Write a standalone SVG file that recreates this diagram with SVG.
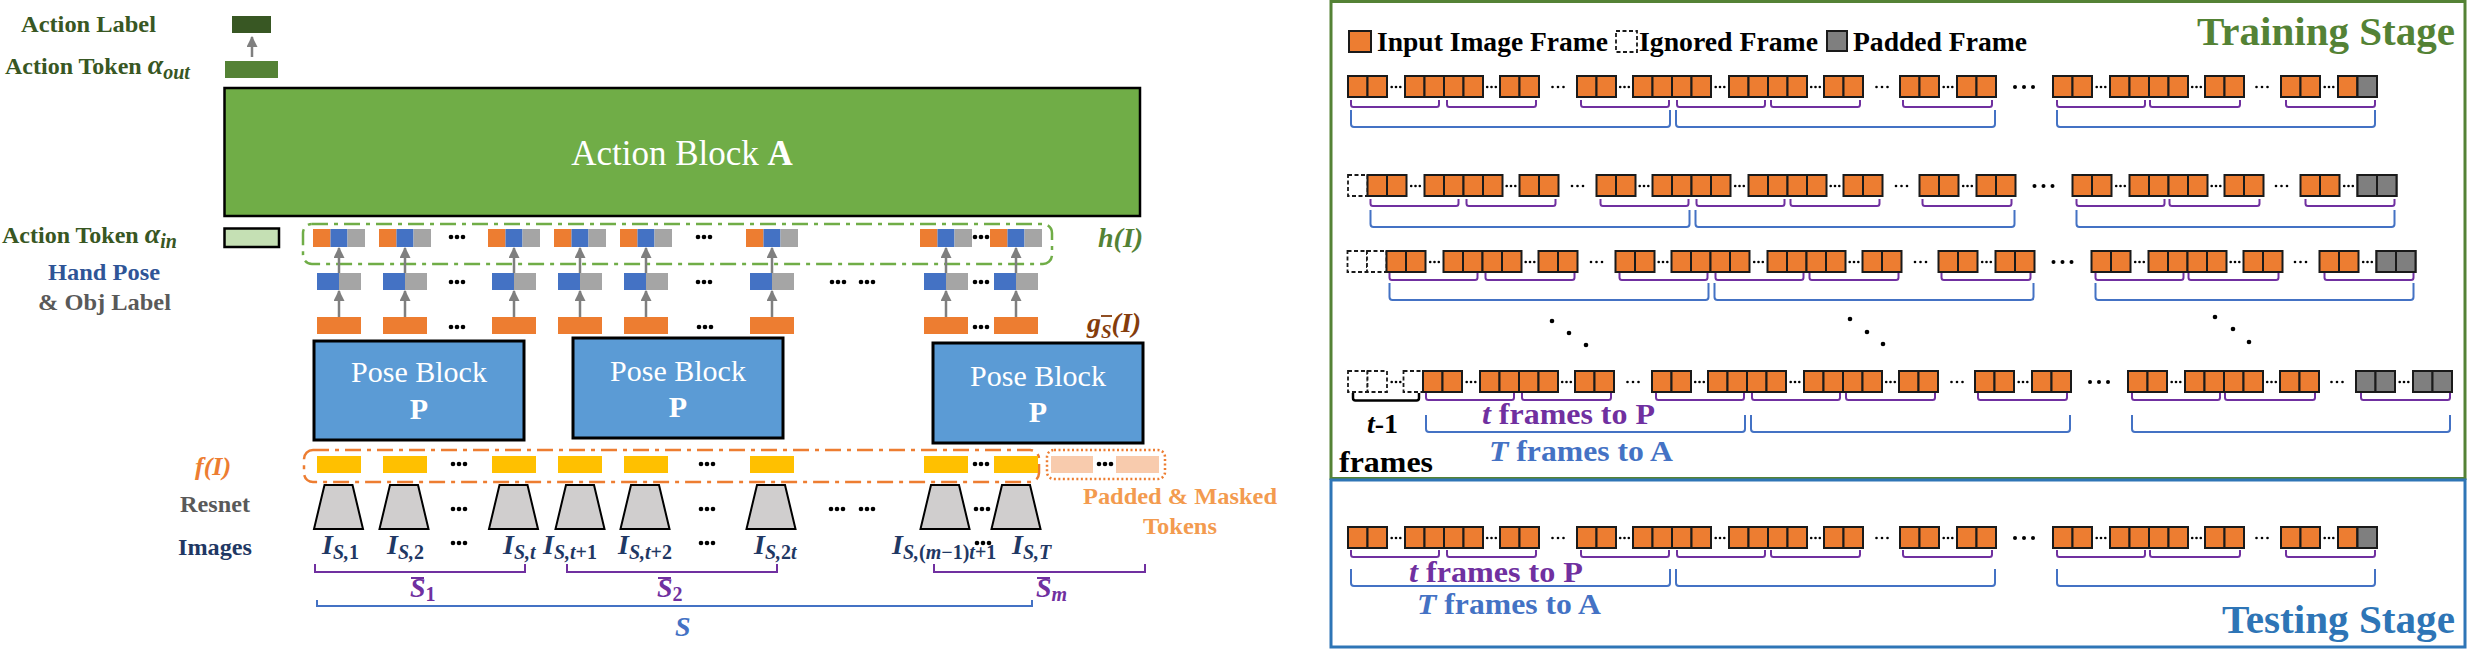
<svg xmlns="http://www.w3.org/2000/svg" xmlns:xlink="http://www.w3.org/1999/xlink" width="2467" height="649" viewBox="0 0 2467 649">
<style>
text{font-family:"Liberation Serif","Times New Roman",serif;font-weight:bold}
.fr{fill:#ed7d31;stroke:#1a1a1a;stroke-width:2}
.fg{fill:#7f7f7f;stroke:#1a1a1a;stroke-width:2}
.fd{fill:#fff;stroke:#1a1a1a;stroke-width:1.8;stroke-dasharray:4 2.5}
.bp{fill:none;stroke:#7030a0;stroke-width:2}
.bb{fill:none;stroke:#4472c4;stroke-width:2}
.arr{stroke:#7f7f7f;stroke-width:2.5;fill:none;marker-end:url(#ah)}
.tko{fill:#ed7d31}.tkb{fill:#4472c4}.tkg{fill:#a5a5a5}.tky{fill:#ffc000}.tkp{fill:#f8cbad}
.trap{fill:#d0cece;stroke:#000;stroke-width:2}
.pose{fill:#5b9bd5;stroke:#000;stroke-width:3}
.pt{fill:#fff;font-weight:normal;font-size:30px}
.nw{font-weight:normal}
.bw{font-weight:bold}
.img{fill:#1f3864;font-size:28px;font-style:italic}
.it{font-style:italic}
.nf{font-style:normal}
</style>
<defs>
<marker id="ah" markerUnits="userSpaceOnUse" markerWidth="11" markerHeight="11" viewBox="0 0 10 10" refX="9" refY="5" orient="auto"><path d="M0,0L10,5L0,10z" fill="#7f7f7f"/></marker>
<g id="dl" fill="#000"><circle cx="-6" r="2.3"/><circle r="2.3"/><circle cx="6" r="2.3"/></g>
<g id="ds" fill="#000"><circle cx="-4.3" r="1.3"/><circle r="1.3"/><circle cx="4.3" r="1.3"/></g>
<g id="dg" fill="#000"><circle cx="-5.5" r="1.3"/><circle r="1.3"/><circle cx="5.5" r="1.3"/></g>
<g id="dw" fill="#000"><circle cx="-9" r="2"/><circle r="2"/><circle cx="9" r="2"/></g>
<g id="tri"><rect x="-26" y="0" width="17.5" height="18" class="tko"/><rect x="-8.5" y="0" width="17" height="18" class="tkb"/><rect x="8.5" y="0" width="17.5" height="18" class="tkg"/></g>
<g id="duo"><rect x="-22" y="0" width="22" height="17" class="tkb"/><rect x="0" y="0" width="22" height="17" class="tkg"/></g>
<rect id="gt" x="-22" y="0" width="44" height="17" class="tko"/>
<rect id="ft" x="-22" y="0" width="44" height="17" class="tky"/>
<polygon id="trap" points="-14,0 14,0 24.5,44 -24.5,44" class="trap"/>
<rect id="c" width="19.5" height="21" class="fr"/>
<rect id="cg" width="19.5" height="21" class="fg"/>
<rect id="cd" width="19.5" height="21" class="fd"/>
<g id="cells">
<use href="#c" x="0"/><use href="#c" x="19.5"/>
<use href="#c" x="57"/><use href="#c" x="76.5"/><use href="#c" x="96"/><use href="#c" x="115.5"/>
<use href="#c" x="152"/><use href="#c" x="171.5"/>
<use href="#c" x="229"/><use href="#c" x="248.5"/>
<use href="#c" x="285"/><use href="#c" x="304.5"/><use href="#c" x="324"/><use href="#c" x="343.5"/>
<use href="#c" x="381"/><use href="#c" x="400.5"/><use href="#c" x="420"/><use href="#c" x="439.5"/>
<use href="#c" x="476"/><use href="#c" x="495.5"/>
<use href="#c" x="552"/><use href="#c" x="571.5"/>
<use href="#c" x="609"/><use href="#c" x="628.5"/>
<use href="#c" x="705"/><use href="#c" x="724.5"/>
<use href="#c" x="762"/><use href="#c" x="781.5"/><use href="#c" x="801"/><use href="#c" x="820.5"/>
<use href="#c" x="857"/><use href="#c" x="876.5"/>
<use href="#c" x="933"/><use href="#c" x="952.5"/>
<use href="#c" x="990"/><use href="#c" x="1009.5"/>
<use href="#ds" x="48" y="11"/><use href="#ds" x="143.5" y="11"/><use href="#ds" x="276.5" y="11"/><use href="#ds" x="372" y="11"/><use href="#ds" x="467.5" y="11"/><use href="#ds" x="600" y="11"/><use href="#ds" x="753" y="11"/><use href="#ds" x="848.5" y="11"/><use href="#ds" x="981" y="11"/>
<use href="#dg" x="210" y="11"/><use href="#dg" x="534" y="11"/><use href="#dg" x="914" y="11"/>
<use href="#dw" x="676" y="11"/>
</g>
<path id="pbr" class="bp" d="M3,0V4.5Q3,7 5.5,7H88.5Q91,7 91,4.5V0M99,0V4.5Q99,7 101.5,7H185.5Q188,7 188,4.5V0M233,0V4.5Q233,7 235.5,7H318.5Q321,7 321,4.5V0M329,0V4.5Q329,7 331.5,7H414.5Q417,7 417,4.5V0M423,0V4.5Q423,7 425.5,7H509.5Q512,7 512,4.5V0M555,0V4.5Q555,7 557.5,7H641.5Q644,7 644,4.5V0M709,0V4.5Q709,7 711.5,7H794.5Q797,7 797,4.5V0M802,0V4.5Q802,7 804.5,7H889.5Q892,7 892,4.5V0M938,0V4.5Q938,7 940.5,7H1024.5Q1027,7 1027,4.5V0"/>
<path id="bbr" class="bb" d="M3,0V14Q3,17 6,17H319Q322,17 322,14V0M328,0V14Q328,17 331,17H644Q647,17 647,14V0M709,0V14Q709,17 712,17H1024Q1027,17 1027,14V0"/>
</defs>

<!-- ============ LEFT PANEL ============ -->
<g id="action-label">
<text x="21" y="32" font-size="24" fill="#385723" textLength="135" lengthAdjust="spacingAndGlyphs">Action Label</text>
<rect x="232" y="16" width="39" height="17" fill="#385723"/>
</g>
<g id="action-token-out">
<text x="5" y="74" font-size="24" fill="#385723">Action Token <tspan class="it" font-size="28">α</tspan><tspan class="it" font-size="20" dy="5">out</tspan></text>
<rect x="225" y="61" width="53" height="17" fill="#548235"/>
</g>
<g id="action-block">
<rect x="224.5" y="88" width="915.5" height="128" fill="#70ad47" stroke="#000" stroke-width="2.5"/>
<text x="682" y="165" text-anchor="middle" font-size="35" fill="#fff" class="nw">Action Block <tspan class="bw">A</tspan></text>
</g>
<g id="action-token-in">
<text x="2" y="243" font-size="24" fill="#385723">Action Token <tspan class="it" font-size="28">α</tspan><tspan class="it" font-size="20" dy="5">in</tspan></text>
<rect x="224.5" y="228.5" width="54.5" height="18.5" fill="#c5e0b4" stroke="#000" stroke-width="2.5"/>
</g>
<g id="hand-pose-label">
<text x="48" y="280" font-size="24" fill="#2f5597" textLength="112" lengthAdjust="spacingAndGlyphs">Hand Pose</text>
<text x="38" y="310" font-size="24" fill="#595959" textLength="133" lengthAdjust="spacingAndGlyphs">&amp; Obj Label</text>
</g>

<g id="h-group">
<rect x="303" y="224" width="749" height="40" rx="9" fill="none" stroke="#70ad47" stroke-width="2.5" stroke-dasharray="16 6 4 6"/>
<use href="#tri" x="339" y="229"/><use href="#tri" x="405" y="229"/><use href="#tri" x="514" y="229"/><use href="#tri" x="580" y="229"/><use href="#tri" x="646" y="229"/><use href="#tri" x="772" y="229"/><use href="#tri" x="946" y="229"/><use href="#tri" x="1016" y="229"/>
<use href="#dl" x="457" y="237"/><use href="#dl" x="704" y="237"/><use href="#dl" x="981" y="237"/>
<text x="1098" y="247" font-size="28" fill="#548235" class="it">h(I)</text>
</g>

<g id="pose-tokens">
<use href="#duo" x="339" y="273"/><use href="#duo" x="405" y="273"/><use href="#duo" x="514" y="273"/><use href="#duo" x="580" y="273"/><use href="#duo" x="646" y="273"/><use href="#duo" x="772" y="273"/><use href="#duo" x="946" y="273"/><use href="#duo" x="1016" y="273"/>
<use href="#dl" x="457" y="282"/><use href="#dl" x="704" y="282"/><use href="#dl" x="838" y="282"/><use href="#dl" x="867" y="282"/><use href="#dl" x="981" y="282"/>
</g>

<g id="g-tokens">
<use href="#gt" x="339" y="317"/><use href="#gt" x="405" y="317"/><use href="#gt" x="514" y="317"/><use href="#gt" x="580" y="317"/><use href="#gt" x="646" y="317"/><use href="#gt" x="772" y="317"/><use href="#gt" x="946" y="317"/><use href="#gt" x="1016" y="317"/>
<use href="#dl" x="457" y="327"/><use href="#dl" x="705" y="327"/><use href="#dl" x="981" y="327"/>
<text x="1087" y="332" font-size="28" fill="#843c0c" class="it">g<tspan font-size="19" dy="6">S</tspan><tspan dy="-6">(I)</tspan></text>
<line x1="1101" y1="316" x2="1112" y2="316" stroke="#843c0c" stroke-width="1.8"/>
</g>

<g id="pose-block-1">
<rect x="314" y="341" width="210" height="99" class="pose"/>
<text x="419" y="382" text-anchor="middle" class="pt">Pose Block</text>
<text x="419" y="419" text-anchor="middle" class="pt bw">P</text>
</g>
<g id="pose-block-2">
<rect x="573" y="338" width="210" height="100" class="pose"/>
<text x="678" y="381" text-anchor="middle" class="pt">Pose Block</text>
<text x="678" y="417" text-anchor="middle" class="pt bw">P</text>
</g>
<g id="pose-block-3">
<rect x="933" y="343" width="210" height="100" class="pose"/>
<text x="1038" y="386" text-anchor="middle" class="pt">Pose Block</text>
<text x="1038" y="422" text-anchor="middle" class="pt bw">P</text>
</g>

<g id="f-group">
<text x="195" y="475" font-size="26" fill="#ed7d31" class="it">f(I)</text>
<rect x="304" y="450" width="735" height="32" rx="9" fill="none" stroke="#ed7d31" stroke-width="2.5" stroke-dasharray="16 6 4 6"/>
<use href="#ft" x="339" y="456"/><use href="#ft" x="405" y="456"/><use href="#ft" x="514" y="456"/><use href="#ft" x="580" y="456"/><use href="#ft" x="646" y="456"/><use href="#ft" x="772" y="456"/><use href="#ft" x="946" y="456"/><use href="#ft" x="1016" y="456"/>
<use href="#dl" x="459" y="464"/><use href="#dl" x="707" y="464"/><use href="#dl" x="981" y="464"/>
</g>
<g id="padded-tokens">
<rect x="1047" y="450" width="118" height="29" rx="7" fill="none" stroke="#ed7d31" stroke-width="2.5" stroke-dasharray="2 2.5"/>
<rect x="1051" y="456" width="42" height="17" class="tkp"/><rect x="1116" y="456" width="43" height="17" class="tkp"/>
<use href="#dl" x="1105" y="464"/>
<text x="1083" y="504" font-size="24" fill="#f39b4f" textLength="194" lengthAdjust="spacingAndGlyphs">Padded &amp; Masked</text>
<text x="1143" y="534" font-size="24" fill="#f39b4f" textLength="74" lengthAdjust="spacingAndGlyphs">Tokens</text>
</g>

<g id="resnet">
<text x="180" y="512" font-size="24" fill="#595959" textLength="70" lengthAdjust="spacingAndGlyphs">Resnet</text>
<use href="#trap" x="338.5" y="485"/><use href="#trap" x="404" y="485"/><use href="#trap" x="513.5" y="485"/><use href="#trap" x="580" y="485"/><use href="#trap" x="645" y="485"/><use href="#trap" x="771" y="485"/><use href="#trap" x="945" y="485"/><use href="#trap" x="1016" y="485"/>
<use href="#dl" x="459" y="509"/><use href="#dl" x="707" y="509"/><use href="#dl" x="837" y="509"/><use href="#dl" x="867" y="509"/><use href="#dl" x="982" y="509"/>
</g>

<g id="images">
<text x="178" y="555" font-size="24" fill="#1f3864" textLength="74" lengthAdjust="spacingAndGlyphs">Images</text>
<text x="322" y="554" class="img">I<tspan font-size="20" dy="5">S,<tspan class="nf">1</tspan></tspan></text>
<text x="387" y="554" class="img">I<tspan font-size="20" dy="5">S,<tspan class="nf">2</tspan></tspan></text>
<text x="503" y="554" class="img">I<tspan font-size="20" dy="5">S,t</tspan></text>
<text x="543" y="554" class="img">I<tspan font-size="20" dy="5">S,t<tspan class="nf">+1</tspan></tspan></text>
<text x="618" y="554" class="img">I<tspan font-size="20" dy="5">S,t<tspan class="nf">+2</tspan></tspan></text>
<text x="754" y="554" class="img">I<tspan font-size="20" dy="5">S,<tspan class="nf">2</tspan>t</tspan></text>
<text x="892" y="554" class="img">I<tspan font-size="20" dy="5">S,<tspan class="nf">(</tspan>m<tspan class="nf">−1)</tspan>t<tspan class="nf">+1</tspan></tspan></text>
<text x="1012" y="554" class="img">I<tspan font-size="20" dy="5">S,T</tspan></text>
<use href="#dl" x="459" y="543"/><use href="#dl" x="707" y="543"/><use href="#dl" x="983" y="543"/>
</g>

<g id="braces">
<path class="bp" stroke-width="2.5" d="M315,564V572H525V564M567,564V572H777V564M934,564V572H1145V564"/>
<path class="bb" stroke-width="2.5" d="M317,600V606H1032V600"/>
<text x="410" y="597" font-size="28" fill="#7030a0" class="it">S<tspan class="nf" font-size="20" dy="4">1</tspan></text>
<line x1="411" y1="578" x2="424" y2="578" stroke="#7030a0" stroke-width="2"/>
<text x="657" y="597" font-size="28" fill="#7030a0" class="it">S<tspan class="nf" font-size="20" dy="4">2</tspan></text>
<line x1="658" y1="578" x2="671" y2="578" stroke="#7030a0" stroke-width="2"/>
<text x="1036" y="597" font-size="28" fill="#7030a0" class="it">S<tspan font-size="20" dy="4">m</tspan></text>
<line x1="1037" y1="578" x2="1050" y2="578" stroke="#7030a0" stroke-width="2"/>
<text x="675" y="636" font-size="28" fill="#4472c4" class="it">S</text>
</g>

<g id="connectors">
<line x1="252" y1="57" x2="252" y2="37" class="arr"/>
<line x1="339" y1="317" x2="339" y2="291" class="arr"/><line x1="405" y1="317" x2="405" y2="291" class="arr"/><line x1="514" y1="317" x2="514" y2="291" class="arr"/><line x1="580" y1="317" x2="580" y2="291" class="arr"/><line x1="646" y1="317" x2="646" y2="291" class="arr"/><line x1="772" y1="317" x2="772" y2="291" class="arr"/><line x1="946" y1="317" x2="946" y2="291" class="arr"/><line x1="1016" y1="317" x2="1016" y2="291" class="arr"/>
<line x1="339" y1="273" x2="339" y2="248" class="arr"/><line x1="405" y1="273" x2="405" y2="248" class="arr"/><line x1="514" y1="273" x2="514" y2="248" class="arr"/><line x1="580" y1="273" x2="580" y2="248" class="arr"/><line x1="646" y1="273" x2="646" y2="248" class="arr"/><line x1="772" y1="273" x2="772" y2="248" class="arr"/><line x1="946" y1="273" x2="946" y2="248" class="arr"/><line x1="1016" y1="273" x2="1016" y2="248" class="arr"/>
</g>

<!-- ============ RIGHT PANEL ============ -->
<g id="training-stage">
<rect x="1331" y="1.5" width="1134" height="477" fill="none" stroke="#548235" stroke-width="3"/>
<text x="2455" y="45" text-anchor="end" font-size="41" fill="#548235" textLength="258" lengthAdjust="spacingAndGlyphs">Training Stage</text>
</g>
<g id="legend">
<rect x="1349" y="31" width="22" height="21" class="fr"/>
<text x="1377" y="51" font-size="27" fill="#000" textLength="231" lengthAdjust="spacingAndGlyphs">Input Image Frame</text>
<rect x="1616" y="31" width="21" height="21" class="fd"/>
<text x="1639" y="51" font-size="27" fill="#000" textLength="179" lengthAdjust="spacingAndGlyphs">Ignored Frame</text>
<rect x="1827" y="31" width="20" height="20" class="fg"/>
<text x="1853" y="51" font-size="27" fill="#000" textLength="174" lengthAdjust="spacingAndGlyphs">Padded Frame</text>
</g>
<g id="row-1" transform="translate(1348,76)">
<use href="#cells"/><use href="#cg" x="1009.5"/>
<use href="#pbr" y="24"/><use href="#bbr" y="34"/>
</g>
<g id="row-2" transform="translate(1367.5,175)">
<use href="#cd" x="-19.5"/>
<use href="#cells"/><use href="#cg" x="990"/><use href="#cg" x="1009.5"/>
<use href="#pbr" y="24"/><use href="#bbr" y="35"/>
</g>
<g id="row-3" transform="translate(1386.5,251)">
<use href="#cd" x="-39"/><use href="#cd" x="-19.5"/>
<use href="#cells"/><use href="#cg" x="990"/><use href="#cg" x="1009.5"/>
<use href="#pbr" y="22"/><use href="#bbr" y="32"/>
</g>
<g id="vdots" fill="#000">
<circle cx="1552" cy="321" r="2.3"/><circle cx="1569" cy="333" r="2.3"/><circle cx="1586" cy="345" r="2.3"/>
<circle cx="1850" cy="319" r="2.3"/><circle cx="1867" cy="332" r="2.3"/><circle cx="1883" cy="344" r="2.3"/>
<circle cx="2215" cy="317" r="2.3"/><circle cx="2233" cy="329" r="2.3"/><circle cx="2249" cy="342" r="2.3"/>
</g>
<g id="row-4" transform="translate(1423,371)">
<use href="#cd" x="-75"/><use href="#cd" x="-55.5"/><use href="#ds" x="-27" y="11"/><use href="#cd" x="-19.5"/>
<use href="#cells"/><use href="#cg" x="933"/><use href="#cg" x="952.5"/><use href="#cg" x="990"/><use href="#cg" x="1009.5"/>
<use href="#pbr" y="22"/><use href="#bbr" y="44"/>
<path d="M-70,22V27Q-70,29.5 -67.5,29.5H-6.5Q-4,29.5 -4,27V22" fill="none" stroke="#000" stroke-width="2.5"/>
</g>
<g id="row-4-labels">
<text x="1367" y="433" font-size="28" fill="#000"><tspan class="it">t</tspan>-1</text>
<text x="1339" y="472" font-size="30" fill="#000" textLength="94" lengthAdjust="spacingAndGlyphs">frames</text>
<text x="1482" y="424" font-size="29" fill="#7030a0" textLength="173" lengthAdjust="spacingAndGlyphs"><tspan class="it">t</tspan> frames to P</text>
<text x="1489" y="461" font-size="29" fill="#4472c4" textLength="184" lengthAdjust="spacingAndGlyphs"><tspan class="it">T</tspan> frames to A</text>
</g>

<g id="testing-stage">
<rect x="1331" y="480" width="1134" height="167" fill="none" stroke="#2e75b6" stroke-width="3"/>
<text x="2455" y="633" text-anchor="end" font-size="41" fill="#2e75b6" textLength="233" lengthAdjust="spacingAndGlyphs">Testing Stage</text>
</g>
<g id="test-row" transform="translate(1348,527)">
<use href="#cells"/><use href="#cg" x="1009.5"/>
<use href="#pbr" y="23"/><use href="#bbr" y="42"/>
</g>
<g id="test-labels">
<text x="1409" y="582" font-size="29" fill="#7030a0" textLength="174" lengthAdjust="spacingAndGlyphs"><tspan class="it">t</tspan> frames to P</text>
<text x="1417" y="614" font-size="29" fill="#4472c4" textLength="184" lengthAdjust="spacingAndGlyphs"><tspan class="it">T</tspan> frames to A</text>
</g>
</svg>
